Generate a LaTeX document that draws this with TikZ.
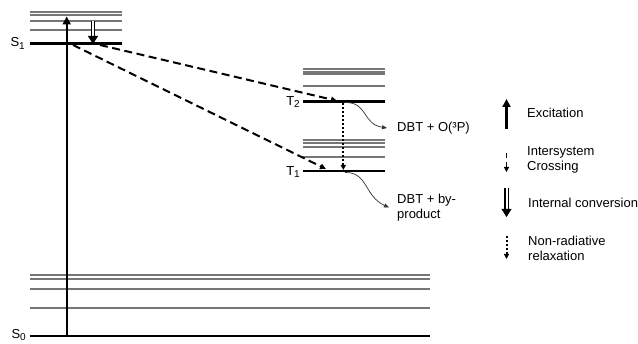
\documentclass[tikz,border=0pt]{standalone}
\usepackage{fontspec}
\setmainfont{Liberation Sans}
\usetikzlibrary{arrows.meta}
\definecolor{lvgray}{RGB}{118,118,118}
\newcommand{\lsub}[1]{\raisebox{-0.35ex}{\fontsize{10}{10}\selectfont #1}}
\begin{document}
\begin{tikzpicture}[x=1pt,y=-1pt,
  font=\fontsize{13}{15}\selectfont,
  level/.style={line width=2.4pt,black},
  sublevel/.style={line width=2pt,lvgray},
  lbl/.style={anchor=east,inner sep=0pt},
  txt/.style={anchor=west,inner sep=0pt,align=left},
  exc/.style={line width=2.2pt,-{Triangle[length=8pt,width=8pt]}},
  isc/.style={line width=2pt,dash pattern=on 8pt off 4.5pt,-{Triangle[length=6pt,width=5.5pt]}},
  iscleg/.style={line width=1.8pt,dash pattern=on 5pt off 4pt,-{Triangle[length=5pt,width=5pt]}},
  icline/.style={double=white,double distance=2pt,line width=1.1pt},
  ichead/.style={line width=0.5pt,-{Triangle[length=8pt,width=10pt]}},
  nr/.style={line width=2pt,dash pattern=on 2pt off 2pt,-{Triangle[length=5pt,width=5pt]}},
  prod/.style={line width=0.7pt,black!80,-{Triangle[length=5pt,width=4pt]}}]
\useasboundingbox (0,0) rectangle (638,344);

% ---- S1 band
\foreach \y in {12.3,15.3,20.7,30} \draw[sublevel] (30,\y) -- (122,\y);
\coordinate (s1a) at (30,43.7); \coordinate (s1b) at (122,43.7);
\draw[level] (s1a) -- (s1b);
\node[lbl] (S1) at (25,43.5) {S\lsub{1}};

% ---- S0 band
\foreach \y in {274.7,279,288.7,307.7} \draw[sublevel] (30,\y) -- (430,\y);
\coordinate (s0a) at (30,336); \coordinate (s0b) at (430,336);
\draw[level] (s0a) -- (s0b);
\node[lbl] (S0) at (26,335) {S\lsub{0}};

% ---- T2 band
\foreach \y in {69,71.7,74.3,86} \draw[sublevel] (303,\y) -- (385,\y);
\coordinate (t2a) at (303,101.7); \coordinate (t2b) at (385,101.7);
\draw[level] (t2a) -- (t2b);
\node[lbl] (T2) at (300,102) {T\lsub{2}};

% ---- T1 band
\foreach \y in {140,143.3,146.7,156.7} \draw[sublevel] (303,\y) -- (385,\y);
\coordinate (t1a) at (303,171); \coordinate (t1b) at (385,171);
\draw[level] (t1a) -- (t1b);
\node[lbl] (T1) at (300,172) {T\lsub{1}};

% ---- excitation
\coordinate (exs) at (66.7,337);
\coordinate (exe) at (66.7,16.5);
\draw[exc] (exs) -- (exe);

% ---- internal conversion
\coordinate (ics) at (93,21.5);
\coordinate (icm) at (93,36);
\coordinate (ice) at (93,44);
\draw[icline] (ics) -- (icm);
\draw[ichead] (icm) -- (ice);

% ---- ISC
\coordinate (isc1s) at (100,45); \coordinate (isc1e) at (337,100.8);
\coordinate (isc2s) at (73,45);  \coordinate (isc2e) at (326,169);
\draw[isc] (isc1s) -- (isc1e);
\draw[isc] (isc2s) -- (isc2e);

% ---- non-radiative
\coordinate (nrs) at (343.3,103); \coordinate (nre) at (343.3,170);
\draw[nr] (nrs) -- (nre);

% ---- products
\node[txt] (P1) at (397,128) {DBT + O(³P)};
\node[txt] (P2) at (397,207.5) {DBT + by-\\product};
\coordinate (c1s) at (345,102.5);
\coordinate (c2s) at (345,172.5);
\draw[prod] (c1s) .. controls (368,102) and (362,124) .. (P1.west -| 387,124);
\draw[prod] (c2s) .. controls (368,172) and (364,196) .. (P2.west -| 389,196);

% ---- legend
\coordinate (l1s) at (506.5,129); \coordinate (l1e) at (506.5,99);
\draw[exc] (l1s) -- (l1e);
\node[txt] (L1) at (527,113) {Excitation};

\coordinate (l2s) at (506.5,153); \coordinate (l2e) at (506.5,172);
\draw[iscleg] (l2s) -- (l2e);
\node[txt] (L2) at (527,160) {Intersystem\\Crossing};

\coordinate (l3s) at (506.5,188); \coordinate (l3m) at (506.5,209); \coordinate (l3e) at (506.5,217);
\draw[icline] (l3s) -- (l3m);
\draw[ichead] (l3m) -- (l3e);
\node[txt] (L3) at (528,203) {Internal conversion};

\coordinate (l4s) at (506.5,236); \coordinate (l4e) at (506.5,259);
\draw[nr] (l4s) -- (l4e);
\node[txt] (L4) at (528,248) {Non-radiative\\relaxation};
\end{tikzpicture}
\end{document}
